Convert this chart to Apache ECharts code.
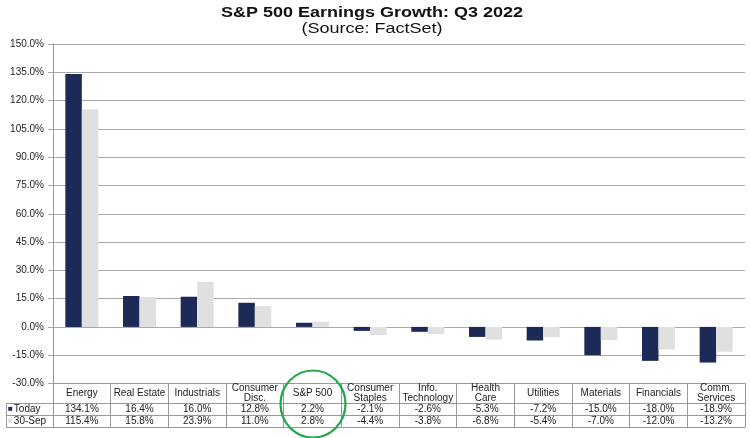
<!DOCTYPE html>
<html>
<head>
<meta charset="utf-8">
<script src="https://cdn.jsdelivr.net/npm/echarts@6/dist/echarts.min.js"></script>
<style>
html,body{margin:0;padding:0;background:#fff;}
#c{width:750px;height:438px;}
</style>
</head>
<body>
<div id="c"></div>
<script>
var categories = ['Energy','Real Estate','Industrials','Consumer\nDisc.','S&P 500','Consumer\nStaples','Info.\nTechnology','Health\nCare','Utilities','Materials','Financials','Comm.\nServices'];
var seriesNames = ['Today','30-Sep'];
var todayValues = [134.1, 16.4, 16.0, 12.8, 2.2, -2.1, -2.6, -5.3, -7.2, -15.0, -18.0, -18.9];
var sepValues = [115.4, 15.8, 23.9, 11.0, 2.8, -4.4, -3.8, -6.8, -5.4, -7.0, -12.0, -13.2];
var colors = ['#1b2a56', '#e0e0e0'];
var titleText = 'S&P 500 Earnings Growth: Q3 2022';
var subtitleText = '(Source: FactSet)';

var FONT = '"Liberation Sans", Arial, sans-serif';
var chart = echarts.init(document.getElementById('c'));

function fmt(v){ return v.toFixed(1) + '%'; }

var option = {
  animation: false,
  textStyle: {fontFamily: FONT},
  grid: {left: 53, right: 5, top: 44, bottom: 54.5, containLabel: false},
  xAxis: {
    type: 'category',
    data: categories,
    axisLine: {show: true, onZero: false, lineStyle: {color: '#999', width: 1}},
    axisTick: {show: true, length: 44, lineStyle: {color: '#999'}},
    axisLabel: {
      interval: 0, margin: 0, color: '#222', fontSize: 10, fontFamily: FONT,
      formatter: function(v, i){
        var head;
        if (v.indexOf('\n') >= 0) {
          head = v.split('\n').map(function(s){ return '{h2|' + s + '}'; }).join('\n');
        } else {
          head = '{h1|' + v + '}';
        }
        return head + '\n{v|' + fmt(todayValues[i]) + '}\n{v|' + fmt(sepValues[i]) + '}';
      },
      rich: {
        h1: {fontSize: 10, lineHeight: 20, color: '#222', fontFamily: FONT},
        h2: {fontSize: 10, lineHeight: 10, color: '#222', fontFamily: FONT},
        v: {fontSize: 10, lineHeight: 12, color: '#222', fontFamily: FONT}
      }
    }
  },
  yAxis: {
    type: 'value', min: -30, max: 150, interval: 15,
    axisLine: {show: true, lineStyle: {color: '#999'}},
    axisTick: {show: true, length: 5, lineStyle: {color: '#aaa'}},
    axisLabel: {margin: 9, color: '#222', fontSize: 10, fontFamily: FONT,
      formatter: function(v){ return v.toFixed(1) + '%'; }},
    splitLine: {show: true, lineStyle: {color: '#aaa', width: 1}}
  },
  series: [
    {name: seriesNames[0], type: 'bar', data: todayValues, barWidth: 16.5, barGap: '0%',
     itemStyle: {color: colors[0]}},
    {name: seriesNames[1], type: 'bar', data: sepValues, barWidth: 16.5, barGap: '0%',
     itemStyle: {color: colors[1]}}
  ],
  graphic: [
    {type: 'text', x: 372, y: 5, scaleX: 1.2, style: {
      text: titleText, fontFamily: 'Liberation Sans', fontSize: 15, fontWeight: 'bold', fill: '#111',
      align: 'center', verticalAlign: 'top'}},
    {type: 'text', x: 372, y: 21, scaleX: 1.2, style: {
      text: subtitleText, fontFamily: 'Liberation Sans', fontSize: 15, fontWeight: 'normal', fill: '#111',
      align: 'center', verticalAlign: 'top'}},
    {type: 'line', shape: {x1: 6, y1: 403.5, x2: 745, y2: 403.5}, style: {stroke: '#999', lineWidth: 1}},
    {type: 'line', shape: {x1: 6, y1: 415.5, x2: 745, y2: 415.5}, style: {stroke: '#999', lineWidth: 1}},
    {type: 'line', shape: {x1: 6, y1: 427.5, x2: 745, y2: 427.5}, style: {stroke: '#999', lineWidth: 1}},
    {type: 'line', shape: {x1: 6.5, y1: 403.5, x2: 6.5, y2: 427.5}, style: {stroke: '#999', lineWidth: 1}},
    {type: 'text', left: 8, top: 404, style: {
      text: '{a|■}{t|' + seriesNames[0] + '}',
      rich: {a: {fill: colors[0], fontSize: 8, fontFamily: FONT, padding: [0,1,0,0]},
             t: {fill: '#222', fontSize: 10, fontFamily: FONT, lineHeight: 11}}}},
    {type: 'text', left: 8, top: 416, style: {
      text: '{a|■}{t|' + seriesNames[1] + '}',
      rich: {a: {fill: colors[1], fontSize: 8, fontFamily: FONT, padding: [0,1,0,0]},
             t: {fill: '#222', fontSize: 10, fontFamily: FONT, lineHeight: 11}}}},
    {type: 'ellipse', shape: {cx: 313, cy: 404, rx: 32.5, ry: 33.5},
     style: {fill: 'none', stroke: '#22a84a', lineWidth: 2.2}, z: 100}
  ]
};
chart.setOption(option);
</script>
</body>
</html>
